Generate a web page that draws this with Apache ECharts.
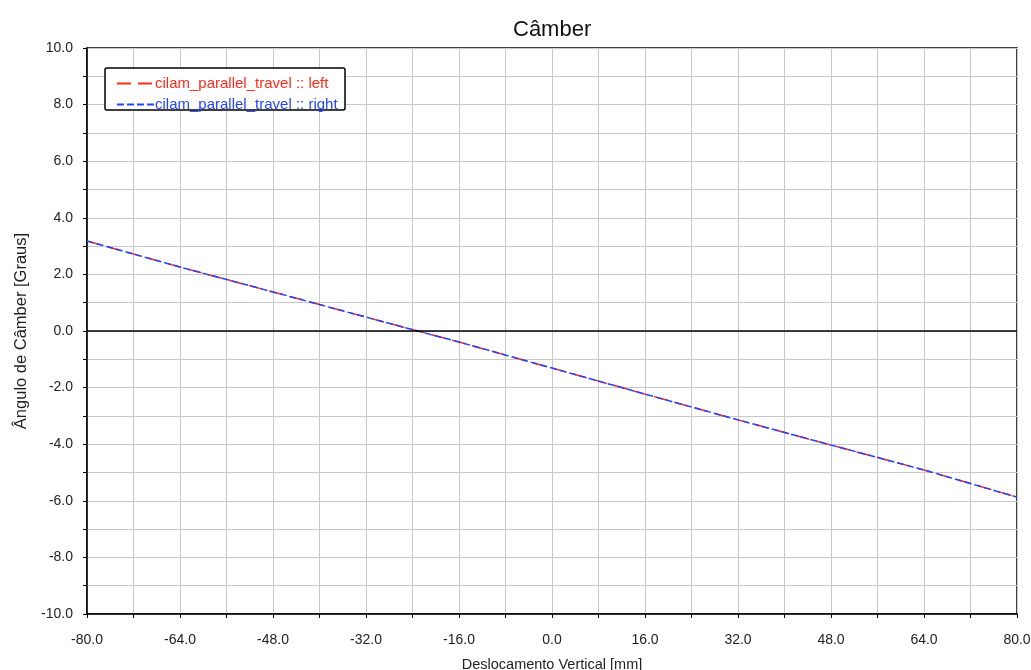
<!DOCTYPE html>
<html>
<head>
<meta charset="utf-8">
<script src="https://cdn.jsdelivr.net/npm/echarts@6/dist/echarts.min.js"></script>
</head>
<body style="margin:0;background:#fff">
<div id="main" style="width:1031px;height:670px;"></div>
<script type="text/javascript">
// dados
var deslocamento = [-80, -64, -48, -32, -16, 0, 16, 32, 48, 64, 80];
var camberLeft  = [3.18, 2.26, 1.38, 0.49, -0.39, -1.31, -2.23, -3.14, -4.03, -4.91, -5.87];
var camberRight = [3.18, 2.26, 1.38, 0.49, -0.39, -1.31, -2.23, -3.14, -4.03, -4.91, -5.87];
var nomes = ['cilam_parallel_travel :: left', 'cilam_parallel_travel :: right'];

function pares(xs, ys) {
    return xs.map(function (x, i) { return [x, ys[i]]; });
}

var myChart = echarts.init(document.getElementById('main'));

var fonte = 'Liberation Sans, Arial, sans-serif';

var option = {
    animation: false,
    title: {
        text: 'Câmber',
        left: 508,
        top: 14,
        textStyle: { fontFamily: fonte, fontSize: 22, fontWeight: 'normal', color: '#111' }
    },
    // caixa da legenda (o segundo item passa um pouco da borda, como no original)
    graphic: [{
        type: 'rect',
        z: 3,
        shape: { x: 105, y: 68, width: 240, height: 42, r: 2 },
        style: { fill: '#fff', stroke: '#000', lineWidth: 1.5 }
    }],
    legend: {
        orient: 'vertical',
        left: 116,
        top: 76,
        padding: 0,
        itemGap: 6,
        itemWidth: 37,
        itemHeight: 18,
        itemStyle: { opacity: 0 },
        data: [
            { name: nomes[0], textStyle: { color: '#ff2a1a' } },
            { name: nomes[1], textStyle: { color: '#2244ff' } }
        ],
        textStyle: { fontFamily: fonte, fontSize: 15, padding: [0, 0, 0, -4] }
    },
    grid: {
        left: 87, right: 14, top: 48, bottom: 56,
        outerBoundsMode: 'none',
        show: true, borderColor: '#000', borderWidth: 1.5
    },
    xAxis: {
        type: 'value',
        min: -80, max: 80, interval: 16,
        name: 'Deslocamento Vertical [mm]',
        nameLocation: 'middle',
        nameGap: 43,
        nameTextStyle: { fontFamily: fonte, fontSize: 14.5, color: '#222' },
        axisLine: { onZero: false, lineStyle: { color: '#000', width: 1.5 } },
        axisTick: { inside: false, length: 4, lineStyle: { color: '#000' } },
        minorTick: { show: true, splitNumber: 2, length: 4, lineStyle: { color: '#000' } },
        axisLabel: {
            margin: 19,
            fontFamily: fonte, fontSize: 14, color: '#222',
            formatter: function (v) { return v.toFixed(1); }
        },
        splitLine: { show: true, lineStyle: { color: '#c8c8c8', width: 1 } },
        minorSplitLine: { show: true, lineStyle: { color: '#c8c8c8', width: 1 } }
    },
    yAxis: {
        type: 'value',
        min: -10, max: 10, interval: 2,
        name: 'Ângulo de Câmber [Graus]',
        nameLocation: 'middle',
        nameGap: 57,
        nameRotate: 90,
        nameTextStyle: { fontFamily: fonte, fontSize: 16.5, color: '#222' },
        axisLine: { onZero: false, lineStyle: { color: '#000', width: 1.5 } },
        axisTick: { inside: false, length: 4, lineStyle: { color: '#000' } },
        minorTick: { show: true, splitNumber: 2, length: 4, lineStyle: { color: '#000' } },
        axisLabel: {
            margin: 14,
            fontFamily: fonte, fontSize: 14, color: '#222',
            formatter: function (v) { return v.toFixed(1); }
        },
        splitLine: { show: true, lineStyle: { color: '#c8c8c8', width: 1 } },
        minorSplitLine: { show: true, lineStyle: { color: '#c8c8c8', width: 1 } }
    },
    series: [
        {
            name: nomes[0],
            type: 'line',
            showSymbol: false,
            symbol: 'none',
            data: pares(deslocamento, camberLeft),
            lineStyle: { color: '#ff2a1a', width: 1.5, type: [14, 7] },
            itemStyle: { color: '#ff2a1a' },
            markLine: {
                silent: true,
                symbol: 'none',
                label: { show: false },
                lineStyle: { color: '#000', width: 1.5, type: 'solid' },
                data: [{ yAxis: 0 }]
            }
        },
        {
            name: nomes[1],
            type: 'line',
            showSymbol: false,
            symbol: 'none',
            data: pares(deslocamento, camberRight),
            lineStyle: { color: '#2244ff', width: 1.5, type: [7, 3] },
            itemStyle: { color: '#2244ff' }
        }
    ]
};

myChart.setOption(option);
</script>
</body>
</html>
